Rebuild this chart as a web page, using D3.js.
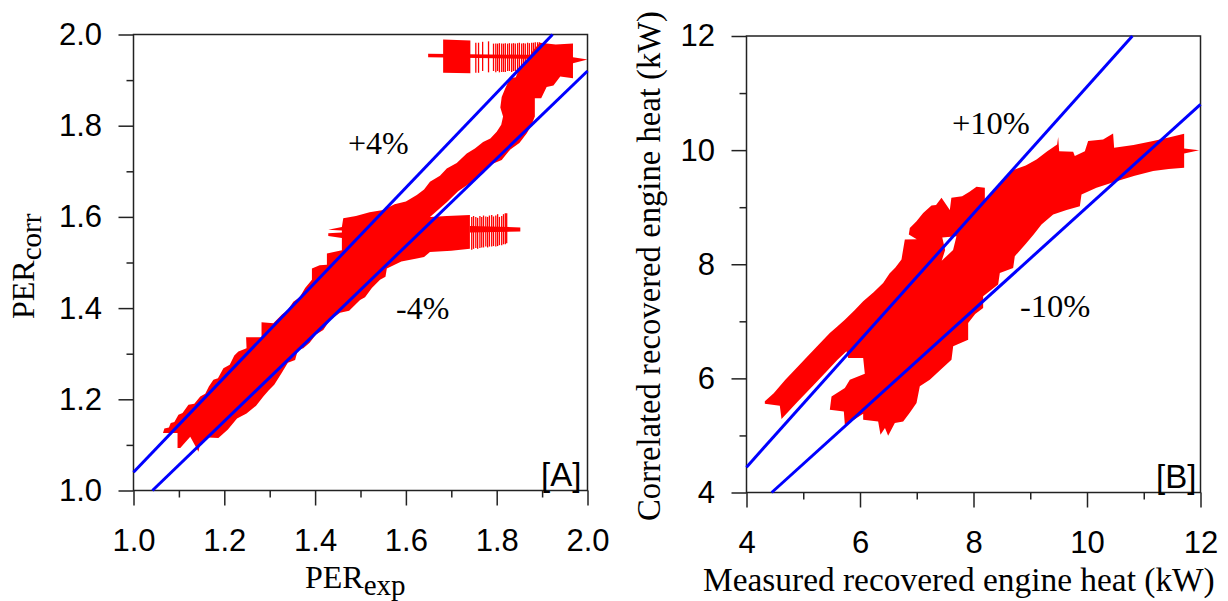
<!DOCTYPE html>
<html>
<head>
<meta charset="utf-8">
<script src="https://cdn.jsdelivr.net/npm/d3@7"></script>
<style>
html, body { margin: 0; padding: 0; background: #fff; }
svg { display: block; }
.tick text { font-family: "Liberation Sans", Arial, sans-serif; font-size: 31px; fill: #000; }
.serif { font-family: "Liberation Serif", "Times New Roman", serif; fill: #000; }
.sans { font-family: "Liberation Sans", Arial, sans-serif; fill: #000; }
</style>
</head>
<body>
<script>
// panel A, outline of the red scatter cloud [PER exp, PER corr]
var cloudA = [
    [1.065,1.126],[1.068,1.136],[1.078,1.138],[1.082,1.148],[1.090,1.150],[1.099,1.166],[1.108,1.170],[1.121,1.188],[1.134,1.190],
    [1.147,1.206],[1.158,1.212],[1.166,1.228],[1.176,1.243],[1.186,1.246],[1.198,1.268],[1.212,1.276],[1.222,1.296],[1.231,1.305],[1.249,1.312],
    [1.248,1.336],[1.282,1.336],[1.282,1.369],[1.308,1.367],[1.327,1.386],[1.340,1.396],[1.352,1.414],[1.366,1.424],[1.378,1.444],[1.393,1.462],[1.393,1.487],[1.410,1.494],[1.426,1.495],
    [1.426,1.520],[1.459,1.527],[1.459,1.554],[1.429,1.558],[1.429,1.564],[1.459,1.566],[1.459,1.570],[1.429,1.572],[1.459,1.578],
    [1.462,1.597],[1.490,1.602],[1.520,1.610],[1.550,1.615],[1.575,1.628],[1.600,1.634],[1.624,1.648],[1.640,1.660],[1.653,1.677],[1.675,1.690],[1.690,1.706],[1.712,1.718],[1.734,1.739],
    [1.752,1.750],[1.770,1.764],[1.786,1.772],[1.800,1.787],[1.810,1.802],[1.814,1.820],[1.808,1.840],[1.811,1.863],[1.818,1.880],
    [1.829,1.904],[1.842,1.906],[1.850,1.926],[1.868,1.945],[1.880,1.965],[1.895,1.982],[1.930,1.978],[1.968,1.980],[1.968,1.950],[2.0,1.945],[1.968,1.937],[1.968,1.904],[1.940,1.908],[1.925,1.888],
    [1.910,1.885],[1.898,1.860],[1.884,1.860],[1.884,1.820],[1.876,1.800],[1.866,1.783],[1.850,1.762],[1.830,1.748],[1.811,1.725],[1.790,1.716],[1.770,1.695],[1.741,1.674],[1.715,1.656],[1.690,1.632],[1.653,1.600],[1.690,1.602],[1.741,1.604],
    [1.741,1.530],[1.700,1.526],[1.653,1.523],[1.640,1.512],[1.624,1.509],[1.590,1.502],[1.558,1.487],[1.555,1.469],[1.543,1.462],[1.525,1.444],[1.510,1.424],[1.499,1.418],[1.475,1.394],[1.455,1.390],[1.433,1.374],
    [1.418,1.352],[1.402,1.342],[1.388,1.324],[1.374,1.312],[1.362,1.308],[1.356,1.286],[1.340,1.280],[1.326,1.257],[1.310,1.232],[1.298,1.220],[1.286,1.206],[1.270,1.186],[1.249,1.169],[1.228,1.158],[1.208,1.134],[1.187,1.115],[1.165,1.116],[1.147,1.104],
    [1.143,1.085],[1.135,1.100],[1.125,1.118],[1.103,1.093],[1.097,1.093],[1.097,1.126]
];
// the solid block on the top branch, and the thin horizontal runs of both branches
var blockTopA = [[1.682,1.989],[1.742,1.987],[1.742,1.915],[1.682,1.916]];
var stripeTopA = [[1.649,1.958],[1.900,1.955],[1.900,1.946],[1.649,1.950]];
var stripeLowA = [[1.741,1.580],[1.852,1.577],[1.852,1.568],[1.741,1.566]];
// vertical bars where the points thin out
var combTopX = [1.754,1.760,1.769,1.782,1.793,1.798,1.802,1.806,1.811,1.815,1.819,1.824,1.828,1.833,1.837,1.841,1.846,1.850,1.855,1.859,1.863,1.868,1.872,1.877,1.881,1.885,1.890,1.894];
var combTopHi = [1.982,1.982,1.984,1.985,1.980,1.980,1.980,1.981,1.980,1.980,1.981,1.980,1.981,1.980,1.981,1.980,1.981,1.982,1.980,1.981,1.980,1.982,1.981,1.982,1.982,1.983,1.983,1.983];
var combTopLo = [1.916,1.916,1.920,1.917,1.920,1.917,1.920,1.917,1.918,1.918,1.918,1.920,1.920,1.918,1.920,1.920,1.920,1.920,1.920,1.920,1.920,1.920,1.920,1.920,1.920,1.920,1.920,1.920];
var combLowX = [1.745,1.749,1.754,1.758,1.763,1.767,1.771,1.776,1.780,1.784,1.789,1.793,1.798,1.802,1.806,1.811,1.815,1.819,1.822];
var combLowHi = [1.600,1.602,1.600,1.598,1.602,1.600,1.603,1.601,1.600,1.603,1.604,1.601,1.603,1.606,1.600,1.602,1.606,1.608,1.608];
var combLowLo = [1.528,1.530,1.532,1.530,1.532,1.533,1.533,1.535,1.533,1.535,1.535,1.536,1.535,1.536,1.538,1.538,1.540,1.540,1.542];

// panel B, outline of the cloud [measured kW, correlated kW]
var cloudB = [
    [4.323,5.556],[4.323,5.600],[4.480,5.740],[4.680,5.970],[4.881,6.181],[5.060,6.370],[5.270,6.590],[5.468,6.795],[5.600,6.910],[5.733,7.029],[5.900,7.190],[6.056,7.351],[6.240,7.510],[6.408,7.672],[6.520,7.840],[6.620,7.940],[6.731,8.082],[6.760,8.260],[6.790,8.433],
    [7.000,8.440],[6.860,8.520],[6.878,8.637],[6.996,8.754],[7.113,8.900],[7.260,9.029],[7.340,9.040],[7.436,9.164],[7.583,8.950],
    [7.610,9.164],[7.800,9.190],[7.930,9.270],[8.053,9.357],[8.200,9.339],[8.200,9.135],[8.360,9.300],[8.523,9.456],[8.620,9.600],[8.728,9.661],[8.920,9.730],[9.110,9.836],[9.300,9.980],[9.474,10.099],
    [9.492,10.228],[9.510,9.982],[9.756,9.971],[9.785,9.895],[9.962,9.982],[10.020,10.158],[10.284,10.187],[10.460,10.292],
    [10.478,10.041],[10.820,10.090],[11.166,10.158],[11.440,10.220],[11.712,10.287],[11.712,10.030],[11.976,10.000],[11.712,9.942],[11.712,9.690],[11.440,9.670],[11.166,9.632],
    [10.840,9.550],[10.520,9.456],[10.167,9.339],[9.903,9.222],[9.874,9.018],[9.640,8.950],[9.404,8.871],[9.198,8.696],[9.060,8.520],[8.934,8.374],[8.728,8.140],
    [8.699,7.936],[8.464,7.848],[8.434,7.643],[8.170,7.439],[8.170,7.234],[8.030,7.130],[7.906,6.971],[7.906,6.678],[7.642,6.561],
    [7.612,6.327],[7.420,6.150],[7.230,5.977],[7.054,5.860],[6.996,5.567],[6.880,5.400],[6.761,5.246],[6.614,5.216],[6.496,4.994],[6.440,5.130],
    [6.361,5.012],[6.320,5.246],[6.056,5.275],[6.056,5.380],[5.900,5.280],[5.733,5.187],[5.715,5.421],[5.468,5.450],
    [5.498,5.684],[5.733,5.830],[5.821,5.977],[6.085,6.082],[6.056,6.357],[5.791,6.357],[5.762,6.474],[5.600,6.320],[5.468,6.181],[5.180,5.880],[4.900,5.590],
    [4.617,5.287],[4.587,5.520]
];
// small white gap where the two branches meet
var holeB = [[7.450,8.470],[7.700,8.490],[7.640,8.250],[7.440,8.060],[7.500,8.250]];

var ticksA = [1.0,1.2,1.4,1.6,1.8,2.0];
var minorA = [1.1,1.3,1.5,1.7,1.9];
var ticksB = [4,6,8,10,12];
var minorB = [5,7,9,11];

// +-4 % and +-10 % limit lines as [x, y] ends
var upperA = [[1.0,1.04],[1.923,2.0]];
var lowerA = [[1.0417,1.0],[2.0,1.92]];
var upperB = [[4.0,4.444],[10.8,12.0]];
var lowerB = [[4.444,4.0],[12.0,10.8]];

var svg = d3.select("body").append("svg").attr("width", 1228).attr("height", 601);

function drawPanel(box, domain, major, minor, fmt, clouds, lines) {
    var x = d3.scaleLinear().domain(domain).range([box.left, box.right]),
        y = d3.scaleLinear().domain(domain).range([box.bottom, box.top]),
        line = d3.line().x(function(d) { return x(d[0]); }).y(function(d) { return y(d[1]); }),
        g = svg.append("g");

    clouds.forEach(function(c) {
        g.append("path").attr("d", c.map(function(p) { return line(p) + "Z"; }).join(""))
            .attr("fill", "#ff0000").attr("fill-rule", "evenodd");
    });

    // frame first, ticks come out of it
    g.append("rect").attr("x", box.left).attr("y", box.top)
        .attr("width", box.right - box.left).attr("height", box.bottom - box.top)
        .attr("fill", "none").attr("stroke", "#222").attr("stroke-width", 1.5);

    [[d3.axisBottom(x), "translate(0," + box.bottom + ")", 23.5], [d3.axisLeft(y), "translate(" + box.left + ",0)", 16.5]].forEach(function(a) {
        var big = g.append("g").attr("transform", a[1])
            .call(a[0].tickValues(major).tickSize(15).tickPadding(a[2]).tickFormat(fmt));
        big.select(".domain").remove();
        big.selectAll(".tick line").attr("stroke", "#222").attr("stroke-width", 1.5);
        var small = g.append("g").attr("transform", a[1])
            .call(a[0].tickValues(minor).tickSize(7).tickFormat(""));
        small.select(".domain").remove();
        small.selectAll(".tick line").attr("stroke", "#222").attr("stroke-width", 1.5);
    });

    lines.forEach(function(l) {
        g.append("path").attr("d", line(l)).attr("fill", "none")
            .attr("stroke", "#0000ff").attr("stroke-width", 3);
    });
    return { g: g, x: x, y: y };
}

var panelA = drawPanel({ left: 133.5, right: 587.5, top: 34.5, bottom: 490.5 }, [1, 2], ticksA, minorA, d3.format(".1f"),
    [[cloudA], [blockTopA], [stripeTopA], [stripeLowA]], [upperA, lowerA]);
var panelB = drawPanel({ left: 746.5, right: 1200.5, top: 36, bottom: 492.5 }, [4, 12], ticksB, minorB, d3.format("d"),
    [[cloudB, holeB]], [upperB, lowerB]);

// comb bars go under the blue lines
function addComb(panel, xs, hi, lo) {
    panel.g.insert("g", "rect").selectAll("line").data(xs).enter().append("line")
        .attr("x1", function(d) { return panel.x(d); }).attr("x2", function(d) { return panel.x(d); })
        .attr("y1", function(d, i) { return panel.y(hi[i]); }).attr("y2", function(d, i) { return panel.y(lo[i]); })
        .attr("stroke", "#ff0000").attr("stroke-width", 1.3);
}
addComb(panelA, combTopX, combTopHi, combTopLo);
addComb(panelA, combLowX, combLowHi, combLowLo);

function label(txt, px, py, size, cls, anchor) {
    return svg.append("text").attr("x", px).attr("y", py).attr("class", cls)
        .attr("font-size", size).attr("text-anchor", anchor || "start").text(txt);
}

label("+4%", 348, 154, 32, "serif");
label("-4%", 396, 319, 32, "serif");
label("+10%", 952, 134, 32.5, "serif");
label("-10%", 1020, 317, 32.5, "serif");
label("[A]", 541, 486, 33, "sans");
label("[B]", 1156, 488, 33, "sans");

var xA = label("PER", 305, 588, 32, "serif");
xA.append("tspan").attr("font-size", 29).attr("dy", 7).text("exp");
var yA = svg.append("text").attr("class", "serif").attr("font-size", 32)
    .attr("transform", "translate(34,319) rotate(-90)").text("PER");
yA.append("tspan").attr("font-size", 29).attr("dy", 7).text("corr");

label("Measured recovered engine heat (kW)", 703, 591, 33.4, "serif");
svg.append("text").attr("class", "serif").attr("font-size", 32.7)
    .attr("transform", "translate(660,521) rotate(-90)").text("Correlated recovered engine heat (kW)");
</script>
</body>
</html>
